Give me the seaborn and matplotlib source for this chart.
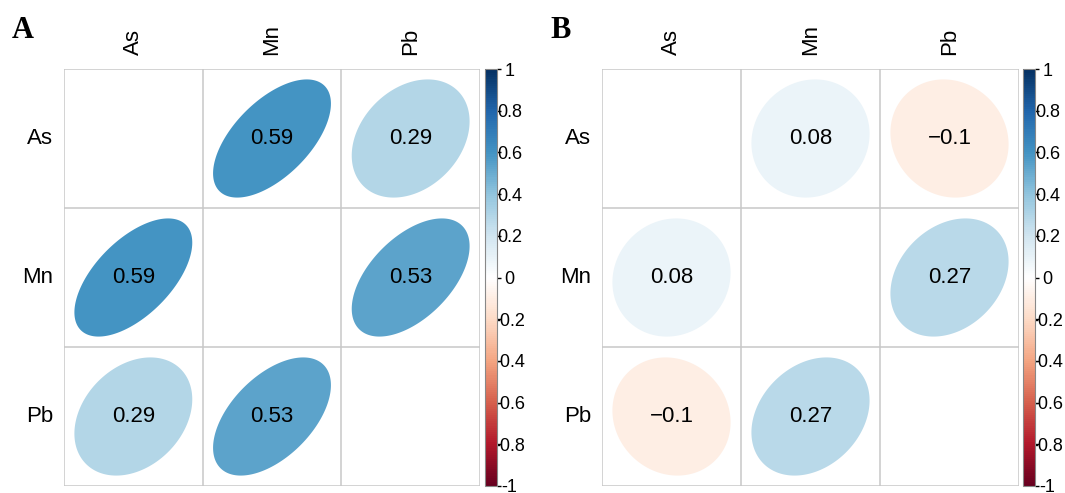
import numpy as np
import pandas as pd
import matplotlib
matplotlib.use("Agg")
import matplotlib.pyplot as plt
from matplotlib.colors import LinearSegmentedColormap
import seaborn as sns

sns.set_theme(style="white")
plt.rcParams["font.family"] = ["Liberation Sans", "DejaVu Sans"]
plt.rcParams["text.color"] = "black"
plt.rcParams["xtick.color"] = "black"
plt.rcParams["ytick.color"] = "black"

# dados
LABELS = ["As", "Mn", "Pb"]
CORR_A = [[1.00, 0.59, 0.29],
          [0.59, 1.00, 0.53],
          [0.29, 0.53, 1.00]]
CORR_B = [[1.00, 0.08, -0.10],
          [0.08, 1.00, 0.27],
          [-0.10, 0.27, 1.00]]
CBAR_TICKS = [-1, -0.8, -0.6, -0.4, -0.2, 0, 0.2, 0.4, 0.6, 0.8, 1]

# paleta RdBu do corrplot (COL2)
RDBU = ["#67001F", "#B2182B", "#D6604D", "#F4A582", "#FDDBC7", "#FFFFFF",
        "#D1E5F0", "#92C5DE", "#4393C3", "#2166AC", "#053061"]
cmap = LinearSegmentedColormap.from_list("corrplot_rdbu", RDBU, N=200)

W, H = 1065, 493


def fmt(v):
    return f"{v:g}".replace("-", "\u2212")


def draw_panel(ax, cax, corr, letter):
    df = pd.DataFrame(corr, index=LABELS, columns=LABELS)
    mask = np.ones_like(df.values, dtype=bool)
    sns.heatmap(df, mask=mask, cmap=cmap, vmin=-1, vmax=1, ax=ax, cbar_ax=cax,
                cbar_kws={"ticks": CBAR_TICKS})
    n = len(LABELS)
    ax.set_xlim(0, n)
    ax.set_ylim(n, 0)

    # grade
    for k in range(n + 1):
        ax.axhline(k, color="#C8C8C8", lw=1.1, zorder=1)
        ax.axvline(k, color="#C8C8C8", lw=1.1, zorder=1)

    # elipses estilo corrplot
    t = np.linspace(0, 2 * np.pi, 200)
    for i in range(n):
        for j in range(n):
            if i == j:
                continue
            r = df.values[i, j]
            d = np.arccos(r)
            ex = 0.85 * np.cos(t + d / 2) / 2
            ey = 0.85 * np.cos(t - d / 2) / 2
            ax.fill(j + 0.5 + ex, i + 0.5 - ey, color=cmap((r + 1) / 2),
                    lw=0, zorder=2)
            ax.text(j + 0.5, i + 0.5, fmt(r), ha="center", va="center",
                    fontsize=16, color="black", zorder=3)

    ax.xaxis.tick_top()
    ax.set_xticklabels(LABELS, rotation=90, fontsize=16)
    ax.set_yticklabels(LABELS, rotation=0, fontsize=16)
    ax.tick_params(axis="x", length=0, pad=10)
    ax.tick_params(axis="y", length=0, pad=8)
    ax.set_xlabel("")
    ax.set_ylabel("")
    for s in ax.spines.values():
        s.set_visible(False)

    # barra de cores: rótulos centrados como no corrplot
    cbar = ax.collections[0].colorbar
    cbar.set_ticklabels([f"{v:g}" for v in CBAR_TICKS])
    cax.tick_params(axis="y", length=3, width=1, color="black", pad=6.4,
                    labelsize=13, right=True)
    for lab in cax.get_yticklabels():
        lab.set_horizontalalignment("center")
    cbar.outline.set_edgecolor("#888888")
    cbar.outline.set_linewidth(0.8)

    pos = ax.get_position()
    ax.figure.text(pos.x0 - 52 / W, 1 - 38 / H, letter, fontsize=22,
                   fontweight="bold", family="Liberation Serif")


fig = plt.figure(figsize=(W / 100, H / 100), dpi=100)
grid_y0 = 1 - 486 / H
grid_h = (486 - 69) / H
ax_a = fig.add_axes([64 / W, grid_y0, 416 / W, grid_h])
cax_a = fig.add_axes([485 / W, grid_y0, 11.5 / W, grid_h])
ax_b = fig.add_axes([602 / W, grid_y0, 417 / W, grid_h])
cax_b = fig.add_axes([1023 / W, grid_y0, 11.5 / W, grid_h])

draw_panel(ax_a, cax_a, CORR_A, "A")
draw_panel(ax_b, cax_b, CORR_B, "B")

fig.savefig("out.png", dpi=100)
plt.close(fig)
